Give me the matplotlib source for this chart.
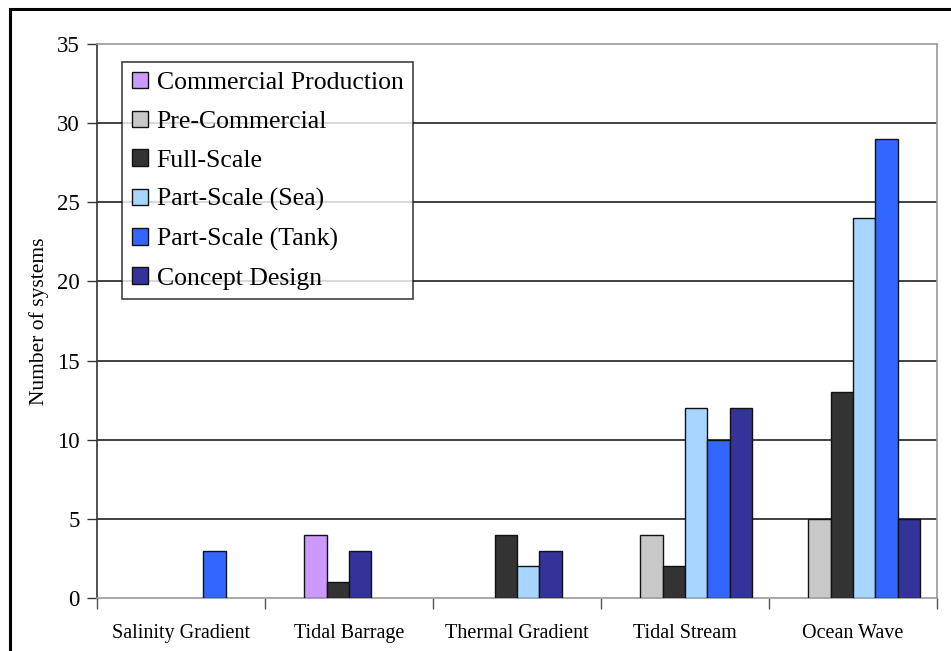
import numpy as np
import matplotlib
matplotlib.use("Agg")
import matplotlib.pyplot as plt
from matplotlib.patches import Patch, Rectangle

# number of systems per technology and development stage
categories = ["Salinity Gradient", "Tidal Barrage", "Thermal Gradient", "Tidal Stream", "Ocean Wave"]
stages = ["Commercial Production", "Pre-Commercial", "Full-Scale",
          "Part-Scale (Sea)", "Part-Scale (Tank)", "Concept Design"]
commercial = [0, 4, 0, 0, 0]
pre_commercial = [0, 0, 0, 4, 5]
full_scale = [0, 1, 4, 2, 13]
part_sea = [0, 0, 2, 12, 24]
part_tank = [3, 0, 0, 10, 29]
concept = [0, 3, 3, 12, 5]
colors = ["#CC99FF", "#C8C8C8", "#333333", "#A6D6FF", "#3366FF", "#333399"]

series = [commercial, pre_commercial, full_scale, part_sea, part_tank, concept]

# slot where each group's (packed) bars begin, out of six slots per group
first_slot = [4, 1, 2, 1, 1]

plt.rcParams['font.family'] = ['Liberation Serif', 'DejaVu Serif']

fig = plt.figure(figsize=(9.51, 6.51), dpi=100)
ax = fig.add_axes([97 / 951, 1 - 598 / 651, 840 / 951, 554 / 651])

n = len(series)
w = 0.8 / n
for j in range(len(categories)):
    slot = first_slot[j]
    for i, vals in enumerate(series):
        if vals[j] == 0:
            continue
        ax.bar(j + (slot - (n - 1) / 2) * w, vals[j], width=w, color=colors[i],
               edgecolor="#111111", linewidth=1.0, zorder=3)
        slot += 1

ax.set_xlim(-0.5, len(categories) - 0.5)
ax.set_ylim(0, 35)
ax.set_yticks(np.arange(0, 36, 5))
for yv in range(5, 35, 5):
    ax.axhline(yv, color="#333333", linewidth=1.3, zorder=1)

ax.set_xticks(np.arange(len(categories)))
ax.set_xticklabels(categories, fontsize=14.5)
ax.tick_params(axis="x", which="major", length=0, pad=19)
ax.set_xticks(np.arange(-0.5, len(categories), 1.0), minor=True)
ax.tick_params(axis="x", which="minor", length=8, width=1, color="#555555")
ax.tick_params(axis="y", length=7, width=1, color="#333333", labelsize=16.5, pad=5.5)

for side in ["top", "right", "bottom"]:
    ax.spines[side].set_color("#999999")
    ax.spines[side].set_linewidth(1.2)
ax.spines["left"].set_color("#333333")
ax.spines["left"].set_linewidth(1.2)

ax.set_ylabel("Number of systems", fontsize=15.5, labelpad=6)

handles = [Patch(facecolor=c, edgecolor="#111111", linewidth=1.0) for c in colors]
leg = ax.legend(handles, stages, loc="upper left", bbox_to_anchor=(25 / 840, 1 - 18 / 554),
                fontsize=18.5, frameon=True, fancybox=False, shadow=False,
                handlelength=0.62, handleheight=0.62, handletextpad=0.35,
                labelspacing=0.64, borderpad=0.38, borderaxespad=0)
leg.get_frame().set_edgecolor("#111111")
leg.get_frame().set_linewidth(1.2)
leg.set_zorder(5)

# outer frame around the chart
fig.patches.append(Rectangle((10 / 951, -0.05), 1.0, 1.05 - 9 / 651, transform=fig.transFigure,
                             fill=False, edgecolor="black", linewidth=2.2, clip_on=False))

fig.savefig("out.png", dpi=100)
